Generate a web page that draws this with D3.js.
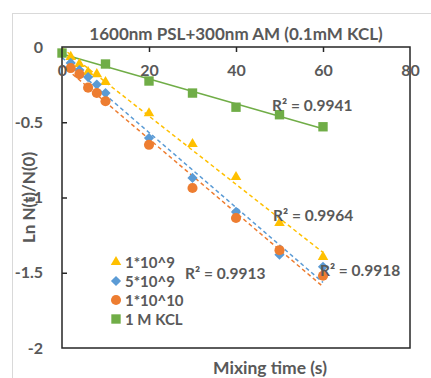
<!DOCTYPE html>
<html>
<head>
<meta charset="utf-8">
<script src="https://cdn.jsdelivr.net/npm/d3@7"></script>
<style>
  html, body { margin: 0; padding: 0; background: #fff; }
  svg text { font-family: Lato, "Open Sans", sans-serif; font-weight: bold; fill: #595959; }
</style>
</head>
<body>
<svg id="chart" width="431" height="378"></svg>
<script>
// Mixing times (s) for the particle-concentration series
const times = [2, 4, 6, 8, 10, 20, 30, 40, 50, 60];
// Ln N(t)/N(0) for each AM concentration
const conc1e9 = [-0.066, -0.113, -0.166, -0.18, -0.233, -0.44, -0.645, -0.864, -1.17, -1.395];
const conc5e9 = [-0.106, -0.153, -0.2, -0.25, -0.306, -0.605, -0.87, -1.096, -1.38, -1.46];
const conc1e10 = [-0.14, -0.18, -0.27, -0.306, -0.36, -0.65, -0.937, -1.136, -1.35, -1.52];
// 1 M KCL reference run
const kclTimes = [0, 10, 20, 30, 40, 50, 60];
const kclValues = [-0.04, -0.113, -0.226, -0.306, -0.40, -0.45, -0.53];

const seriesNames = ["1*10^9", "5*10^9", "1*10^10", "1 M KCL"];
const r2Labels = ["R² = 0.9941", "R² = 0.9964", "R² = 0.9918", "R² = 0.9913"];
const xTicks = [0, 20, 40, 60, 80];
const yTicks = [0, -0.5, -1, -1.5, -2];

const titleText = "1600nm PSL+300nm AM (0.1mM KCL)";
const xTitle = "Mixing time (s)";
const yTitle = "Ln N(t)/N(0)";

const colors = { y: "#FFC000", b: "#5B9BD5", o: "#ED7D31", g: "#70AD47" };

const svg = d3.select("#chart");
const plot = { left: 62, top: 47, right: 410, bottom: 348 };

const x = d3.scaleLinear().domain([0, 80]).range([plot.left, plot.right]);
const y = d3.scaleLinear().domain([0, -2]).range([plot.top, plot.bottom]);

// outer chart frame
svg.append("rect")
  .attr("x", 12.5).attr("y", 13.5).attr("width", 440).attr("height", 380)
  .attr("fill", "none").attr("stroke", "#d9d9d9").attr("stroke-width", 1);

// title
svg.append("text")
  .attr("x", (plot.left + plot.right) / 2).attr("y", 33)
  .attr("text-anchor", "middle").attr("dominant-baseline", "central")
  .style("font-size", "17px").text(titleText);

// least-squares line for a series
function fit(ts, vs) {
  const mt = d3.mean(ts), mv = d3.mean(vs);
  let sxy = 0, sxx = 0;
  ts.forEach((t, i) => { sxy += (t - mt) * (vs[i] - mv); sxx += (t - mt) * (t - mt); });
  const m = sxy / sxx;
  return { m, b: mv - m * mt };
}

const series = [
  { name: seriesNames[0], ts: times, vs: conc1e9, color: colors.y, shape: "triangle", dash: "4,3" },
  { name: seriesNames[1], ts: times, vs: conc5e9, color: colors.b, shape: "diamond", dash: "4,3" },
  { name: seriesNames[2], ts: times, vs: conc1e10, color: colors.o, shape: "circle", dash: "4,3" },
  { name: seriesNames[3], ts: kclTimes, vs: kclValues, color: colors.g, shape: "square", dash: null }
];

function symbolPath(shape) {
  if (shape === "triangle") return d3.symbol(d3.symbolTriangle, 48)();
  if (shape === "circle") return d3.symbol(d3.symbolCircle, 80)();
  if (shape === "square") return d3.symbol(d3.symbolSquare, 88)();
  return d3.symbol(d3.symbolSquare, 52)();
}
function symbolRotate(shape) { return shape === "diamond" ? 45 : 0; }

// trend lines
series.forEach(s => {
  const f = fit(s.ts, s.vs);
  const t0 = s.dash ? 0 : d3.min(s.ts), t1 = d3.max(s.ts);
  svg.append("line")
    .attr("x1", x(t0)).attr("y1", y(f.b + f.m * t0))
    .attr("x2", x(t1)).attr("y2", y(f.b + f.m * t1))
    .attr("stroke", s.color).attr("stroke-width", 1.5)
    .attr("stroke-dasharray", s.dash);
});

// markers
series.forEach(s => {
  svg.append("g").selectAll("path")
    .data(s.ts.map((t, i) => [t, s.vs[i]]))
    .join("path")
    .attr("d", symbolPath(s.shape))
    .attr("transform", d => `translate(${x(d[0])},${y(d[1])}) rotate(${symbolRotate(s.shape)})`)
    .attr("fill", s.color);
});

// plot frame
svg.append("rect")
  .attr("x", plot.left).attr("y", plot.top)
  .attr("width", plot.right - plot.left).attr("height", plot.bottom - plot.top)
  .attr("fill", "none").attr("stroke", "#262626").attr("stroke-width", 1.5);

// axes: ticks point inward, labels set off from the frame
const xAxis = svg.append("g").attr("transform", `translate(0,${plot.top})`)
  .call(d3.axisBottom(x).tickValues(xTicks).tickSizeInner(5).tickSizeOuter(0).tickPadding(13));
const yAxis = svg.append("g").attr("transform", `translate(${plot.left},0)`)
  .call(d3.axisLeft(y).tickValues(yTicks).tickSizeInner(-5).tickSizeOuter(0).tickPadding(19)
    .tickFormat(d => d3.format("")(d).replace("−", "-")));
[xAxis, yAxis].forEach(a => {
  a.select(".domain").remove();
  a.selectAll(".tick line").attr("stroke", "#262626").attr("stroke-width", 1.5);
  a.selectAll(".tick text").style("font-size", "16px").style("font-family", null).attr("fill", null);
  a.attr("font-family", null).attr("font-size", null);
});
xAxis.selectAll(".tick").filter(d => d === 0 || d === 80).select("line").remove();
yAxis.selectAll(".tick").filter(d => d === 0 || d === -2).select("line").remove();

// axis titles
svg.append("text")
  .attr("x", 270).attr("y", 367)
  .attr("text-anchor", "middle").attr("dominant-baseline", "central")
  .style("font-size", "17.5px").text(xTitle);
svg.append("text")
  .attr("transform", `translate(28,${(plot.top + plot.bottom) / 2}) rotate(-90)`)
  .attr("text-anchor", "middle").attr("dominant-baseline", "central")
  .style("font-size", "17px").text(yTitle);

// R² annotations placed in data coordinates
const r2Pos = [[48.3, -0.385], [48.5, -1.116], [59.3, -1.48], [28.3, -1.50]];
r2Labels.forEach((txt, i) => {
  svg.append("text")
    .attr("x", x(r2Pos[i][0])).attr("y", y(r2Pos[i][1]))
    .attr("dominant-baseline", "central")
    .style("font-size", "15.5px").text(txt);
});

// legend
const legend = svg.append("g");
series.forEach((s, i) => {
  const ly = 262 + i * 19;
  legend.append("path")
    .attr("d", symbolPath(s.shape))
    .attr("transform", `translate(116,${ly}) rotate(${symbolRotate(s.shape)})`)
    .attr("fill", s.color);
  legend.append("text")
    .attr("x", 125).attr("y", ly)
    .attr("dominant-baseline", "central")
    .style("font-size", "15px").text(s.name);
});
</script>
</body>
</html>
